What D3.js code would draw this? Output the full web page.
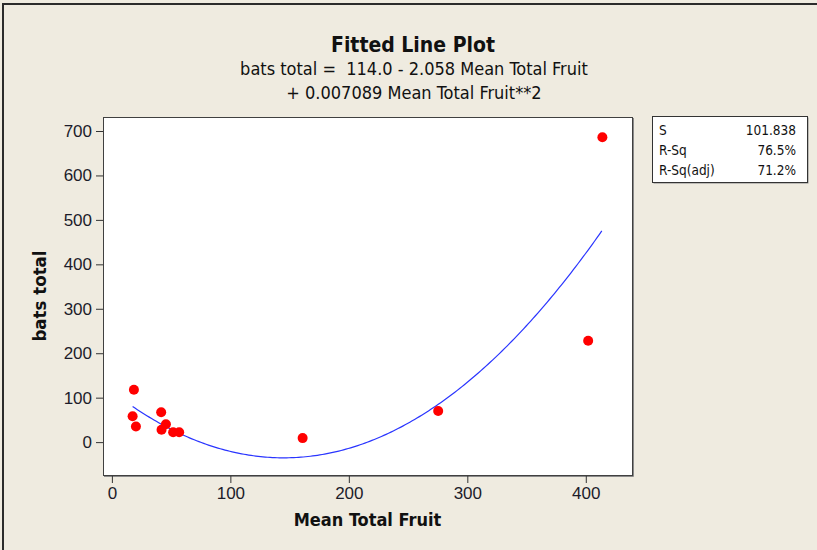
<!DOCTYPE html>
<html>
<head>
<meta charset="utf-8">
<script src="https://cdn.jsdelivr.net/npm/d3@7"></script>
<style>
  body { margin: 0; background: #efebe0; }
  svg { display: block; font-family: Tahoma, "DejaVu Sans Condensed", "Liberation Sans", sans-serif; }
</style>
</head>
<body>
<div id="root"></div>
<script>
const meanTotalFruit = [17.5, 18.6, 20.3, 41.6, 41.9, 45.6, 51.7, 56.8, 161, 275.4, 402, 414];
const batsTotal = [58, 118, 35, 67, 28, 40, 22, 22, 9, 70, 228, 686];

// quadratic fit coefficients as printed in the subtitle
const fitCoef = [114.0, -2.058, 0.007089];

const xTicks = [0, 100, 200, 300, 400];
const yTicks = [0, 100, 200, 300, 400, 500, 600, 700];

const statLabels = ["S", "R-Sq", "R-Sq(adj)"];
const statValues = ["101.838", "76.5%", "71.2%"];

const width = 817, height = 550;
const plot = { left: 103, top: 117, right: 632, bottom: 475 };

const svg = d3.select("#root")
  .append("svg")
  .attr("width", width)
  .attr("height", height);

// outer frame (cropped on the right and bottom)
svg.append("rect")
  .attr("x", 3).attr("y", 4)
  .attr("width", width + 10).attr("height", height + 10)
  .attr("fill", "#efebe0")
  .attr("stroke", "#2b2b2b")
  .attr("stroke-width", 2);

// titles
svg.append("text")
  .attr("x", 413).attr("y", 52)
  .attr("text-anchor", "middle")
  .attr("font-weight", "bold")
  .attr("font-size", 21)
  .attr("fill", "#111")
  .text("Fitted Line Plot");

svg.append("text")
  .attr("x", 414).attr("y", 75)
  .attr("text-anchor", "middle")
  .attr("font-size", 18)
  .attr("fill", "#111")
  .attr("xml:space", "preserve")
  .text("bats total =  114.0 - 2.058 Mean Total Fruit");

svg.append("text")
  .attr("x", 414).attr("y", 99)
  .attr("text-anchor", "middle")
  .attr("font-size", 18)
  .attr("fill", "#111")
  .text("+ 0.007089 Mean Total Fruit**2");

// scales
const x = d3.scaleLinear().domain([-7.5, 439]).range([plot.left, plot.right]);
const y = d3.scaleLinear().domain([-74, 731.5]).range([plot.bottom, plot.top]);

// plot box with a small shadow on the right/bottom
svg.append("path")
  .attr("d", `M${plot.right + 1.5},${plot.top + 1}V${plot.bottom + 1.5}H${plot.left + 1}`)
  .attr("fill", "none")
  .attr("stroke", "#8a8a8a")
  .attr("stroke-width", 1);

svg.append("rect")
  .attr("x", plot.left + 0.5).attr("y", plot.top + 0.5)
  .attr("width", plot.right - plot.left)
  .attr("height", plot.bottom - plot.top)
  .attr("fill", "#fff")
  .attr("stroke", "#404040")
  .attr("stroke-width", 1);

// axes
const xAxis = svg.append("g")
  .attr("transform", `translate(0, ${plot.bottom + 1})`)
  .call(d3.axisBottom(x).tickValues(xTicks).tickSize(7).tickPadding(4));

const yAxis = svg.append("g")
  .attr("transform", `translate(${plot.left}, 0)`)
  .call(d3.axisLeft(y).tickValues(yTicks).tickSize(7).tickPadding(4));

[xAxis, yAxis].forEach(g => {
  g.select(".domain").remove();
  g.selectAll("line").attr("stroke", "#333");
  g.selectAll("text")
    .attr("font-family", null)
    .attr("font-size", 17)
    .attr("fill", "#1c1c2a");
});

// axis titles
svg.append("text")
  .attr("x", (plot.left + plot.right) / 2).attr("y", 526)
  .attr("text-anchor", "middle")
  .attr("font-weight", "bold")
  .attr("font-size", 18)
  .attr("fill", "#111")
  .text("Mean Total Fruit");

svg.append("text")
  .attr("transform", `translate(46, ${(plot.top + plot.bottom) / 2}) rotate(-90)`)
  .attr("text-anchor", "middle")
  .attr("font-weight", "bold")
  .attr("font-size", 18.5)
  .attr("fill", "#111")
  .text("bats total");

// fitted curve, evaluated from the printed coefficients over the data range
const xs = d3.range(d3.min(meanTotalFruit), d3.max(meanTotalFruit) + 0.01, 2);
const fit = v => fitCoef[0] + fitCoef[1] * v + fitCoef[2] * v * v;

svg.append("path")
  .datum(xs)
  .attr("fill", "none")
  .attr("stroke", "#2a35ff")
  .attr("stroke-width", 1.2)
  .attr("d", d3.line().x(d => x(d)).y(d => y(fit(d))));

// data points
svg.append("g")
  .selectAll("circle")
  .data(meanTotalFruit.map((d, i) => ({ fruit: d, bats: batsTotal[i] })))
  .enter()
  .append("circle")
  .attr("cx", d => x(d.fruit))
  .attr("cy", d => y(d.bats))
  .attr("r", 5)
  .attr("fill", "#ff0000");

// stats box
const box = { x: 652, y: 116, w: 155, h: 66 };
svg.append("rect")
  .attr("x", box.x + 1.5).attr("y", box.y + 1.5)
  .attr("width", box.w).attr("height", box.h)
  .attr("fill", "#8a8a8a");
svg.append("rect")
  .attr("x", box.x + 0.5).attr("y", box.y + 0.5)
  .attr("width", box.w).attr("height", box.h)
  .attr("fill", "#fff")
  .attr("stroke", "#333");

const rows = svg.append("g")
  .selectAll("g")
  .data(statLabels)
  .enter()
  .append("g")
  .attr("transform", (d, i) => `translate(0, ${box.y + 19 + i * 20})`);

rows.append("text")
  .attr("x", box.x + 7)
  .attr("font-size", 13.5)
  .attr("fill", "#111")
  .text(d => d);

rows.append("text")
  .attr("x", box.x + box.w - 11)
  .attr("text-anchor", "end")
  .attr("font-size", 13.5)
  .attr("fill", "#111")
  .text((d, i) => statValues[i]);
</script>
</body>
</html>
